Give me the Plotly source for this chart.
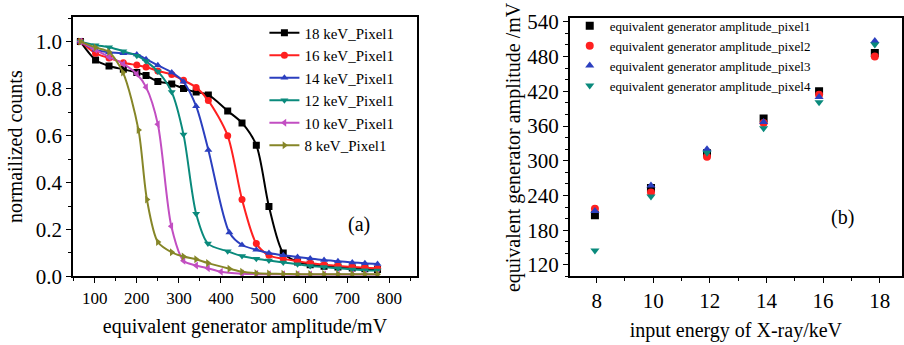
import plotly.graph_objects as go

W, H = 904, 345
FONT = "Liberation Serif"

# ---------------- left panel data: normalized counts vs generator amplitude ----------------
names_left = ["18 keV_Pixel1", "16 keV_Pixel1", "14 keV_Pixel1",
              "12 keV_Pixel1", "10 keV_Pixel1", "8 keV_Pixel1"]
colors_left = ["#000000", "#ff2020", "#2b3fbf", "#0a8a7c", "#c24ec2", "#868628"]
symbols_left = ["square", "circle", "triangle-up", "triangle-down", "triangle-left", "triangle-right"]

mv_18 = [66, 102, 134, 168, 200, 222, 250, 283, 311, 341, 370, 416, 450, 484, 514, 548, 582, 612, 645, 678, 712, 742, 772]
cnt_18 = [1.0, 0.922, 0.896, 0.882, 0.868, 0.856, 0.83, 0.82, 0.80, 0.785, 0.773, 0.705, 0.654, 0.559, 0.298, 0.10, 0.062, 0.05, 0.044, 0.04, 0.036, 0.033, 0.03]

mv_16 = [66, 102, 134, 168, 200, 222, 250, 283, 311, 341, 370, 416, 450, 484, 514, 548, 582, 612, 645, 678, 712, 742, 772]
cnt_16 = [1.0, 0.95, 0.93, 0.91, 0.90, 0.892, 0.875, 0.86, 0.835, 0.805, 0.749, 0.599, 0.328, 0.14, 0.09, 0.075, 0.065, 0.057, 0.05, 0.045, 0.04, 0.037, 0.035]

mv_14 = [66, 102, 134, 168, 200, 222, 250, 283, 311, 341, 370, 420, 450, 484, 514, 548, 582, 612, 645, 678, 712, 742, 772]
cnt_14 = [1.0, 0.965, 0.955, 0.95, 0.945, 0.925, 0.899, 0.869, 0.829, 0.725, 0.539, 0.187, 0.134, 0.114, 0.10, 0.09, 0.083, 0.077, 0.07, 0.065, 0.06, 0.056, 0.053]

mv_12 = [66, 102, 134, 168, 200, 222, 250, 283, 311, 341, 369, 416, 450, 484, 514, 548, 582, 612, 645, 678, 712, 742, 772]
cnt_12 = [1.0, 0.985, 0.976, 0.959, 0.94, 0.916, 0.873, 0.785, 0.604, 0.267, 0.14, 0.107, 0.087, 0.075, 0.068, 0.06, 0.052, 0.045, 0.04, 0.035, 0.03, 0.027, 0.025]

mv_10 = [66, 102, 134, 168, 200, 222, 250, 282, 311, 341, 369, 400, 450, 484, 514, 548, 582, 612, 645, 678, 712, 742, 772]
cnt_10 = [1.0, 0.965, 0.935, 0.905, 0.862, 0.806, 0.648, 0.214, 0.067, 0.047, 0.035, 0.02, 0.012, 0.01, 0.009, 0.009, 0.008, 0.008, 0.008, 0.008, 0.008, 0.008, 0.008]

mv_8 = [66, 102, 134, 167, 204, 224, 250, 283, 311, 341, 369, 420, 450, 484, 514, 548, 582, 612, 645, 678, 712, 742, 772]
cnt_8 = [1.0, 0.975, 0.956, 0.869, 0.624, 0.328, 0.147, 0.103, 0.085, 0.073, 0.057, 0.033, 0.02, 0.014, 0.012, 0.011, 0.01, 0.01, 0.01, 0.01, 0.01, 0.01, 0.01]

mv_left = [mv_18, mv_16, mv_14, mv_12, mv_10, mv_8]
cnt_left = [cnt_18, cnt_16, cnt_14, cnt_12, cnt_10, cnt_8]

# ---------------- right panel data: equivalent amplitude vs X-ray energy ----------------
names_right = ["equivalent generator amplitude_pixel1", "equivalent generator amplitude_pixel2",
               "equivalent generator amplitude_pixel3", "equivalent generator amplitude_pixel4"]
colors_right = ["#000000", "#ff2020", "#2b3fbf", "#0a8a7c"]
symbols_right = ["square", "circle", "triangle-up", "triangle-down"]
energy_kev = [7.94, 9.92, 11.9, 13.9, 15.86, 17.83]
amp_pixel1 = [206, 253, 313, 373, 420, 486]
amp_pixel2 = [217, 245, 307, 365, 414, 480]
amp_pixel3 = [213, 257, 320, 367, 410, 507]
amp_pixel4 = [145, 238, 314, 356, 401, 501]
amp_right = [amp_pixel1, amp_pixel2, amp_pixel3, amp_pixel4]

fig = go.Figure()

for nm, xs, ys, c, s in zip(names_left, mv_left, cnt_left, colors_left, symbols_left):
    fig.add_trace(go.Scatter(
        x=xs, y=ys, name=nm, mode="lines+markers",
        line=dict(color=c, width=2, shape="spline", smoothing=0.8),
        marker=dict(symbol=s, size=7, color=c),
        xaxis="x", yaxis="y", legend="legend"))

for nm, ys, c, s in zip(names_right, amp_right, colors_right, symbols_right):
    fig.add_trace(go.Scatter(
        x=energy_kev, y=ys, name=nm, mode="markers",
        marker=dict(symbol=s, size=8, color=c),
        xaxis="x2", yaxis="y2", legend="legend2"))

def px_x(p):
    return p / W

def px_y(p):
    return 1 - p / H

left_dom_x = [px_x(73), px_x(418)]
right_dom_x = [px_x(571), 1.0]
dom_y_left = [px_y(285), px_y(9.5)]
dom_y_right = [px_y(285), px_y(11)]

xr_left = [48, 866]
yr_left = [0, 1.105]
xr_right = [7.05, 18.79]
yr_right = [100, 546]

axis_common = dict(showgrid=False, zeroline=False, showline=True, linecolor="black",
                   linewidth=1.5, ticks="outside", ticklen=5, tickwidth=1.2, tickcolor="black")
overlay_common = dict(showgrid=False, zeroline=False, showline=False, ticks="inside",
                      ticklen=5, tickwidth=1.2, tickcolor="black", showticklabels=False)

fig.update_layout(
    width=W, height=H,
    margin=dict(l=0, r=0, t=0, b=0),
    paper_bgcolor="white", plot_bgcolor="white",
    font=dict(family=FONT, color="black"),
    xaxis=dict(domain=left_dom_x, range=xr_left, anchor="y", tick0=0, dtick=100, mirror=True,
               minor=dict(dtick=50, ticks="outside", ticklen=3, tickcolor="black"),
               tickfont=dict(size=17, family=FONT),
               title=dict(text="equivalent generator amplitude/mV", font=dict(size=20, family=FONT), standoff=12),
               **axis_common),
    yaxis=dict(domain=dom_y_left, range=yr_left, anchor="x", tick0=0, dtick=0.2, tickformat=".1f", mirror=True,
               minor=dict(dtick=0.1, ticks="outside", ticklen=3, tickcolor="black"),
               tickfont=dict(size=21, family=FONT),
               title=dict(text="normailized counts", font=dict(size=20, family=FONT), standoff=8),
               **axis_common),
    xaxis3=dict(overlaying="x", anchor="y3", side="top", range=xr_left, tick0=0, dtick=100,
                minor=dict(dtick=50, ticks="inside", ticklen=3, tickcolor="black"), **overlay_common),
    yaxis3=dict(overlaying="y", anchor="x3", side="right", range=yr_left, tick0=0, dtick=0.2,
                minor=dict(dtick=0.1, ticks="inside", ticklen=3, tickcolor="black"), **overlay_common),
    xaxis2=dict(domain=right_dom_x, range=xr_right, anchor="y2", tick0=0, dtick=2, mirror=True,
                minor=dict(dtick=1, ticks="outside", ticklen=3, tickcolor="black"),
                tickfont=dict(size=21, family=FONT),
                title=dict(text="input energy of X-ray/keV", font=dict(size=20, family=FONT), standoff=11),
                **axis_common),
    yaxis2=dict(domain=dom_y_right, range=yr_right, anchor="x2", tick0=0, dtick=60, mirror=True,
                minor=dict(dtick=20, ticks="outside", ticklen=3, tickcolor="black"),
                tickfont=dict(size=21, family=FONT),
                title=dict(text="equivalent generator amplitude /mV", font=dict(size=20, family=FONT), standoff=1),
                **axis_common),
    xaxis4=dict(overlaying="x2", anchor="y4", side="top", range=xr_right, tick0=0, dtick=2,
                minor=dict(dtick=1, ticks="inside", ticklen=3, tickcolor="black"), **overlay_common),
    yaxis4=dict(overlaying="y2", anchor="x4", side="right", range=yr_right, tick0=0, dtick=60,
                minor=dict(dtick=20, ticks="inside", ticklen=3, tickcolor="black"), **overlay_common),
    legend=dict(x=px_x(265), y=px_y(9), xanchor="left", yanchor="top",
                bgcolor="rgba(0,0,0,0)", borderwidth=0,
                font=dict(size=15, family=FONT), itemwidth=30, tracegroupgap=0),
    legend2=dict(x=px_x(571), y=px_y(3), xanchor="left", yanchor="top",
                 bgcolor="rgba(0,0,0,0)", borderwidth=0,
                 font=dict(size=13, family=FONT), itemwidth=30, tracegroupgap=0),
    showlegend=True,
    annotations=[
        dict(text="(a)", x=px_x(360), y=px_y(230), xref="paper", yref="paper",
             showarrow=False, font=dict(size=20, family=FONT)),
        dict(text="(b)", x=px_x(858), y=px_y(237), xref="paper", yref="paper",
             showarrow=False, font=dict(size=20, family=FONT)),
    ],
)

fig.write_html("out.html")
